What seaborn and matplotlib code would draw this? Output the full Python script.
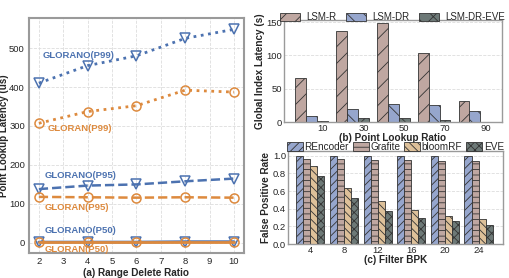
import matplotlib
matplotlib.use("Agg")
import matplotlib.pyplot as plt
import seaborn as sns
import pandas as pd

# ---------------- data ----------------
delete_ratio = [2, 4, 6, 8, 10]
glorano_p99 = [410, 455, 480, 525, 548]
gloran_p99 = [307, 337, 352, 392, 387]
glorano_p95 = [138, 147, 150, 158, 165]
gloran_p95 = [118, 117, 116, 117, 116]
glorano_p50 = [2, 2, 2, 3, 3]
gloran_p50 = [1, 1, 1, 1, 1]

lookup_ratio = ["10", "30", "50", "70", "90"]
lsm_r = [66, 136, 148, 104, 31]
lsm_dr = [9, 20, 27, 25, 17]
lsm_dr_eve = [2, 6, 6, 3, 0.5]

bpk = ["4", "8", "12", "16", "20", "24"]
rencoder = [1.0, 1.0, 1.0, 1.0, 1.0, 1.0]
grafite = [0.96, 0.96, 0.95, 0.95, 0.94, 0.94]
bloomrf = [0.89, 0.64, 0.49, 0.39, 0.32, 0.28]
eve = [0.77, 0.52, 0.38, 0.30, 0.26, 0.22]

# ---------------- style ----------------
sns.set_style("white")
plt.rcParams['font.family'] = ['Liberation Sans', 'DejaVu Sans']
plt.rcParams['hatch.linewidth'] = 0.6

BLUE = "#4C72B0"
ORANGE = "#DD8A3E"
C_R = "#C4A49C"
C_DR = "#8DA2D6"
C_EVE = "#6B7B78"
C_TAN = "#E8C28E"
SPINE = "#9a9a9a"

fig = plt.figure(figsize=(5.10, 2.78), dpi=100)
axA = fig.add_axes([0.057, 0.090, 0.421, 0.845])
axB = fig.add_axes([0.557, 0.561, 0.427, 0.367])
axC = fig.add_axes([0.565, 0.122, 0.421, 0.335])

LBL = dict(fontsize=7.2, fontweight="bold")
TICK = 6.8

# ---------------- panel (a) ----------------
series = [
    (glorano_p99, BLUE, ":", "v", 2.0),
    (gloran_p99, ORANGE, ":", "o", 2.0),
    (glorano_p95, BLUE, "--", "v", 1.8),
    (gloran_p95, ORANGE, "--", "o", 1.8),
    (glorano_p50, BLUE, "-", "v", 2.0),
    (gloran_p50, ORANGE, "-", "o", 2.0),
]
for ys, col, ls, mk, lw in series:
    sns.lineplot(x=delete_ratio, y=ys, ax=axA, color=col, linestyle=ls,
                 linewidth=lw, marker=mk, markersize=6.5, markerfacecolor="none",
                 markeredgecolor=col, markeredgewidth=1.1)

notes = [
    (2.15, 482, "GLORANO(P99)", BLUE),
    (2.35, 293, "GLORAN(P99)", ORANGE),
    (2.25, 174, "GLORANO(P95)", BLUE),
    (2.25, 92, "GLORAN(P95)", ORANGE),
    (2.25, 31, "GLORANO(P50)", BLUE),
    (2.25, -16, "GLORAN(P50)", ORANGE),
]
for x, y, t, c in notes:
    axA.text(x, y, t, color=c, fontsize=6.8, fontweight="bold", va="center", ha="left")

axA.set_xlim(1.6, 10.4)
axA.set_ylim(-26, 577)
axA.set_xticks(range(2, 11))
axA.set_yticks([0, 100, 200, 300, 400, 500])
axA.set_xlabel("(a) Range Delete Ratio", labelpad=1, **LBL)
axA.set_ylabel("Point Lookup Latency (us)", fontsize=7, fontweight="bold")
axA.yaxis.set_label_coords(-0.093, 0.5)
axA.grid(True, linestyle="--", color="#dddddd", linewidth=0.6)
for s in axA.spines.values():
    s.set_color(SPINE)
    s.set_linewidth(1.5)
axA.tick_params(labelsize=TICK, length=2, pad=1, color=SPINE)

# ---------------- panel (b) ----------------
names_b = ["LSM-R", "LSM-DR", "LSM-DR-EVE"]
dfb = pd.DataFrame({
    "ratio": lookup_ratio * 3,
    "lat": lsm_r + lsm_dr + lsm_dr_eve,
    "sys": [n for n in names_b for _ in lookup_ratio],
})
sns.barplot(data=dfb, x="ratio", y="lat", hue="sys", ax=axB,
            palette=[C_R, C_DR, C_EVE], width=0.8, edgecolor="#333333",
            linewidth=0.6, legend=False)
for cont, h in zip(axB.containers, ["//", "\\\\", "xx"]):
    for p in cont:
        p.set_hatch(h)
axB.legend(handles=axB.containers, labels=names_b, ncol=3, frameon=False,
           loc="lower center", bbox_to_anchor=(0.5, 0.97), fontsize=7,
           handlelength=2.0, handleheight=0.9, columnspacing=1.0,
           handletextpad=0.7, borderaxespad=0, borderpad=0.1)
axB.set_xlim(-0.68, 4.66)
axB.set_ylim(0, 153)
axB.set_yticks([0, 50, 100, 150])
axB.set_xticks([i + 0.267 for i in range(5)])
axB.set_xticklabels(lookup_ratio)
axB.set_xlabel("(b) Point Lookup Ratio", labelpad=0, **LBL)
axB.set_ylabel("Global Index Latency (s)", labelpad=1, **LBL)
axB.yaxis.grid(True, linestyle="--", color="#dddddd", linewidth=0.6)
axB.set_axisbelow(True)
for s in axB.spines.values():
    s.set_color(SPINE)
    s.set_linewidth(1.0)
axB.tick_params(labelsize=TICK, length=0, pad=1.5)

# ---------------- panel (c) ----------------
names_c = ["REncoder", "Grafite", "bloomRF", "EVE"]
dfc = pd.DataFrame({
    "bpk": bpk * 4,
    "fpr": rencoder + grafite + bloomrf + eve,
    "sys": [n for n in names_c for _ in bpk],
})
sns.barplot(data=dfc, x="bpk", y="fpr", hue="sys", ax=axC,
            palette=[C_DR, C_R, C_TAN, C_EVE], width=0.84, edgecolor="#333333",
            linewidth=0.6, legend=False)
for cont, h in zip(axC.containers, ["////", "---", "\\\\\\\\", "xxxx"]):
    for p in cont:
        p.set_hatch(h)
axC.legend(handles=axC.containers, labels=names_c, ncol=4, frameon=False,
           loc="lower center", bbox_to_anchor=(0.5, 0.98), fontsize=7.2,
           handlelength=1.6, handleheight=0.9, columnspacing=0.4,
           handletextpad=0.15, borderaxespad=0, borderpad=0.1)
axC.set_xlim(-0.66, 5.72)
axC.set_ylim(0, 1.055)
axC.set_yticks([0.0, 0.2, 0.4, 0.6, 0.8, 1.0])
axC.set_xlabel("(c) Filter BPK", labelpad=0, **LBL)
axC.set_ylabel("False Positive Rate", labelpad=1, **LBL)
axC.yaxis.grid(True, linestyle="--", color="#dddddd", linewidth=0.6)
axC.set_axisbelow(True)
for s in axC.spines.values():
    s.set_color(SPINE)
    s.set_linewidth(1.0)
axC.tick_params(labelsize=TICK, length=0, pad=1.5)

fig.savefig("out.png", dpi=100)
